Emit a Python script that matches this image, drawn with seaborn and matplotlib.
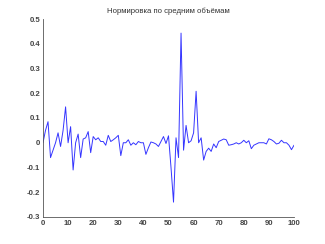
import numpy as np
import pandas as pd
import matplotlib
matplotlib.use("Agg")
import matplotlib.pyplot as plt
import seaborn as sns

title = "Нормировка по средним объёмам"
x_index = np.arange(101)
values = [
    0.0, 0.05, 0.085, -0.06, -0.03, 0.0, 0.04, -0.015, 0.05, 0.145,
    0.0, 0.065, -0.11, 0.0, 0.035, -0.06, 0.015, 0.02, 0.045, -0.04,
    0.025, 0.012, 0.02, 0.005, 0.005, -0.01, 0.03, 0.005, 0.012, 0.02,
    0.03, -0.052, 0.0, 0.0, 0.012, -0.01, 0.0, -0.008, 0.005, 0.0,
    0.0, -0.047, -0.02, 0.003, 0.0, -0.005, -0.015, 0.005, 0.025, -0.003,
    0.028, -0.1, -0.24, 0.02, -0.06, 0.443, -0.03, 0.07, 0.0, 0.008,
    0.04, 0.208, 0.0, 0.02, -0.07, -0.035, -0.022, -0.035, -0.005, -0.02,
    0.005, 0.01, 0.015, 0.012, -0.01, -0.008, -0.005, 0.0, -0.005, 0.0,
    0.01, 0.0, 0.008, -0.024, -0.01, -0.005, 0.0, 0.0, 0.0, -0.005,
    0.016, 0.012, 0.005, -0.005, -0.002, 0.01, 0.0, 0.0, -0.01, -0.028,
    -0.01,
]
x_ticks = [0, 10, 20, 30, 40, 50, 60, 70, 80, 90, 100]
y_ticks = [-0.3, -0.2, -0.1, 0, 0.1, 0.2, 0.3, 0.4, 0.5]
y_tick_labels = ["-0.3", "-0.2", "-0.1", "0", "0.1", "0.2", "0.3", "0.4", "0.5"]

sns.set_style("white")
plt.rcParams['font.family'] = ['Liberation Sans', 'DejaVu Sans']

df = pd.DataFrame({"x": x_index, "y": values})

fig = plt.figure(figsize=(3.25, 2.44), dpi=100)
ax = fig.add_axes([0.1323, 0.1107, 0.7723, 0.8114])
sns.lineplot(data=df, x="x", y="y", ax=ax, color="#3535ff", linewidth=0.7)

ax.set_xlim(0, 100)
ax.set_ylim(-0.3, 0.5)
ax.set_xticks(x_ticks)
ax.set_xticklabels([str(t) for t in x_ticks])
ax.set_yticks(y_ticks)
ax.set_yticklabels(y_tick_labels)
ax.set_xlabel("")
ax.set_ylabel("")
ax.set_title(title, fontsize=5.6, color="#333333", pad=4)
for s in ["top", "right"]:
    ax.spines[s].set_visible(False)
for s in ["left", "bottom"]:
    ax.spines[s].set_color("#555555")
    ax.spines[s].set_linewidth(0.6)
ax.tick_params(direction="in", length=2.5, width=0.6, colors="#555555",
               labelsize=5.6, labelcolor="#444444", pad=2)
for lbl in ax.get_xticklabels() + ax.get_yticklabels():
    lbl.set_fontweight("bold")

fig.savefig("out.png", dpi=100)
